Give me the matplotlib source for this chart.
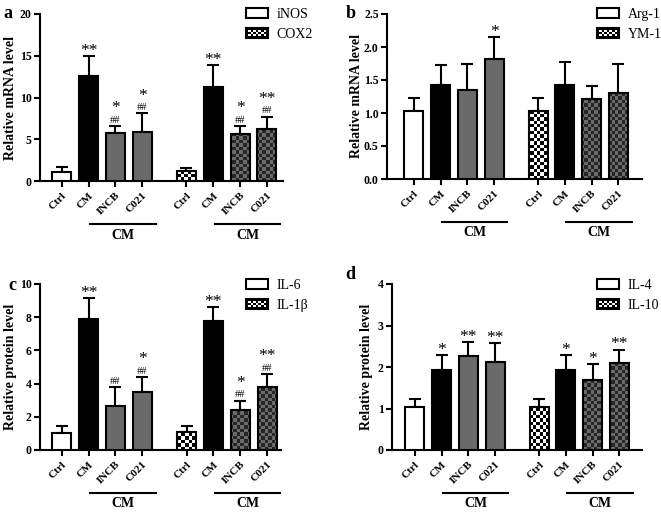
import numpy as np
import matplotlib
matplotlib.use("Agg")
import matplotlib.pyplot as plt
from matplotlib.patches import Rectangle
from matplotlib.legend_handler import HandlerBase

plt.rcParams['font.family'] = ['Liberation Serif', 'DejaVu Serif']

# Values: mean and upper error (SD) for each bar
groups = ["Ctrl", "CM", "INCB", "C021"]

a_inos = [1.1, 12.6, 5.8, 5.9]
a_inos_err = [0.6, 2.4, 0.8, 2.2]
a_cox2 = [1.15, 11.3, 5.6, 6.2]
a_cox2_err = [0.35, 2.6, 1.0, 1.5]

b_arg1 = [1.03, 1.43, 1.35, 1.82]
b_arg1_err = [0.19, 0.29, 0.40, 0.33]
b_ym1 = [1.03, 1.43, 1.21, 1.30]
b_ym1_err = [0.19, 0.35, 0.20, 0.45]

c_il6 = [1.04, 7.9, 2.66, 3.48]
c_il6_err = [0.38, 1.24, 1.14, 0.92]
c_il1b = [1.08, 7.76, 2.42, 3.78]
c_il1b_err = [0.38, 0.86, 0.54, 0.80]

d_il4 = [1.04, 1.92, 2.26, 2.13]
d_il4_err = [0.19, 0.36, 0.34, 0.45]
d_il10 = [1.04, 1.92, 1.69, 2.10]
d_il10_err = [0.19, 0.36, 0.38, 0.32]

# significance marks (vs Ctrl: *, vs CM: #)
a_star = [["", "**", "*", "*"], ["", "**", "*", "**"]]
a_hash = [["", "", "##", "##"], ["", "", "##", "##"]]
b_star = [["", "", "", "*"], ["", "", "", ""]]
b_hash = [["", "", "", ""], ["", "", "", ""]]
c_star = [["", "**", "", "*"], ["", "**", "*", "**"]]
c_hash = [["", "", "##", "##"], ["", "", "##", "##"]]
d_star = [["", "*", "**", "**"], ["", "*", "*", "**"]]
d_hash = [["", "", "", ""], ["", "", "", ""]]

GRAY = "#6a6a6a"
W, H = 661, 512
fig = plt.figure(figsize=(W / 100, H / 100), dpi=100)


def px_axes(l, r, t, b):
    return fig.add_axes([l / W, 1 - b / H, (r - l) / W, (b - t) / H])


class CheckerHandler(HandlerBase):
    def create_artists(self, legend, orig_handle, xdescent, ydescent, width, height, fontsize, trans):
        x0, y0 = -xdescent, -ydescent
        arts = [Rectangle((x0, y0), width, height, facecolor="black", edgecolor="black",
                          lw=1.5, transform=trans)]
        nx, ny = 7, 3
        m = 1.5
        dx, dy = (width - 2 * m) / nx, (height - 2 * m) / ny
        for i in range(nx):
            for j in range(ny):
                if (i + j) % 2 == 0:
                    arts.append(Rectangle((x0 + m + i * dx, y0 + m + j * dy), dx, dy,
                                          facecolor="white", edgecolor="none", transform=trans))
        return arts


def checker(ax, bar, c1, c2, size_px=3.4):
    bb = ax.get_position()
    wpx, hpx = bb.width * W, bb.height * H
    nc, nr = int(wpx / size_px), int(hpx / size_px)
    img = (np.add.outer(np.arange(nr), np.arange(nc)) % 2)
    cmap = matplotlib.colors.ListedColormap([c1, c2])
    x0, x1 = ax.get_xlim()
    y0, y1 = ax.get_ylim()
    im = ax.imshow(img, cmap=cmap, extent=[x0, x1, y0, y1], aspect="auto",
                   interpolation="nearest", origin="lower", zorder=2)
    im.set_clip_path(bar)


def panel(ax, letter, s1, e1, s2, e2, stars, hashes, ylim, yticks, ylabel, fmt,
          xlim, leg_labels, leg_xy, letter_xy, ylab_x):
    pos1 = np.arange(4)
    pos2 = pos1 + 4.65
    ax.set_xlim(*xlim)
    ax.set_ylim(*ylim)
    cols1 = ["white", "black", GRAY, GRAY]
    bars1 = ax.bar(pos1, s1, width=0.71, color=cols1, edgecolor="black", linewidth=1.5, zorder=3)
    cols2 = ["none", "black", "none", "none"]
    bars2 = ax.bar(pos2, s2, width=0.71, color=cols2, edgecolor="black", linewidth=1.5, zorder=3)
    checker(ax, bars2[0], "white", "black")
    checker(ax, bars2[2], GRAY, "#262626")
    checker(ax, bars2[3], GRAY, "#262626")
    for p, v, e in [(pos1, s1, e1), (pos2, s2, e2)]:
        ax.errorbar(p, v, yerr=[np.zeros(4), e], fmt="none", ecolor="black",
                    elinewidth=1.5, capsize=4.5, capthick=1.5, zorder=2.5)
    for k, (p, v, e) in enumerate([(pos1, s1, e1), (pos2, s2, e2)]):
        for i in range(4):
            top = v[i] + e[i]
            off = 1
            if hashes[k][i]:
                ax.annotate(hashes[k][i], (p[i], top), xytext=(0, off), textcoords="offset points",
                            ha="center", va="bottom", fontsize=7.5)
                off += 9
            if stars[k][i]:
                ax.annotate(stars[k][i], (p[i], top), xytext=(0, off - 3),
                            textcoords="offset points", ha="center", va="bottom", fontsize=12.5)
    ax.spines[["top", "right"]].set_visible(False)
    for s in ["left", "bottom"]:
        ax.spines[s].set_linewidth(1.5)
    ax.set_yticks(yticks)
    ax.set_yticklabels([fmt % t for t in yticks], fontsize=8.5, fontweight="bold")
    ax.set_xticks(np.concatenate([pos1, pos2]))
    ax.set_xticklabels(groups * 2, rotation=45, ha="right", rotation_mode="anchor",
                       fontsize=8, fontweight="bold")
    ax.tick_params(width=1.5, length=4, pad=2)
    ax.tick_params(axis="x", pad=3)
    ax.set_ylabel(ylabel, fontsize=10, fontweight="bold")
    ax.yaxis.set_label_coords(ylab_x, 0.5)
    # group lines for CM-treated bars
    tr = ax.get_xaxis_transform()
    for p in [pos1, pos2]:
        ax.plot([p[1] + 0.05, p[3] + 0.5], [-0.26, -0.26], color="black", lw=1.5,
                transform=tr, clip_on=False)
        ax.text((p[1] + p[3] + 0.55) / 2, -0.285, "CM", transform=tr, ha="center", va="top",
                fontsize=10, fontweight="bold")
    h1 = Rectangle((0, 0), 1, 1, facecolor="white", edgecolor="black", lw=1.5)
    h2 = Rectangle((0, 0), 1, 1, facecolor="black", edgecolor="black", lw=1.5)
    fig.legend([h1, h2], leg_labels, handler_map={h2: CheckerHandler()},
               loc="upper left", bbox_to_anchor=(leg_xy[0] / W, 1 - leg_xy[1] / H),
               frameon=False, fontsize=10, handlelength=1.6, handleheight=0.75,
               handletextpad=0.6, labelspacing=0.5, borderaxespad=0, borderpad=0)
    fig.text(letter_xy[0] / W, 1 - letter_xy[1] / H, letter, fontsize=13, fontweight="bold",
             ha="left", va="top")


ax_a = px_axes(40, 283, 14, 181)
panel(ax_a, "a", a_inos, a_inos_err, a_cox2, a_cox2_err, a_star, a_hash, (0, 20),
      [0, 5, 10, 15, 20], "Relative mRNA level", "%d", (-0.81, 8.25),
      ["iNOS", "COX2"], (246, 8), (3, 5), -0.095)

ax_b = px_axes(387, 642, 14, 179)
panel(ax_b, "b", b_arg1, b_arg1_err, b_ym1, b_ym1_err, b_star, b_hash, (0, 2.5),
      [0, 0.5, 1.0, 1.5, 2.0, 2.5], "Relative mRNA level", "%.1f", (-1.01, 8.54),
      ["Arg-1", "YM-1"], (597, 8), (346, 5), -0.094)

ax_c = px_axes(40, 281, 284, 450)
panel(ax_c, "c", c_il6, c_il6_err, c_il1b, c_il1b_err, c_star, c_hash, (0, 10),
      [0, 2, 4, 6, 8, 10], "Relative protein level", "%d", (-0.81, 8.17),
      ["IL-6", "IL-1\u03b2"], (246, 279), (8, 277), -0.095)

ax_d = px_axes(392, 642, 284, 450)
panel(ax_d, "d", d_il4, d_il4_err, d_il10, d_il10_err, d_star, d_hash, (0, 4),
      [0, 1, 2, 3, 4], "Relative protein level", "%d", (-0.86, 8.5),
      ["IL-4", "IL-10"], (597, 279), (345, 266), -0.076)

fig.savefig("out.png", dpi=100)
